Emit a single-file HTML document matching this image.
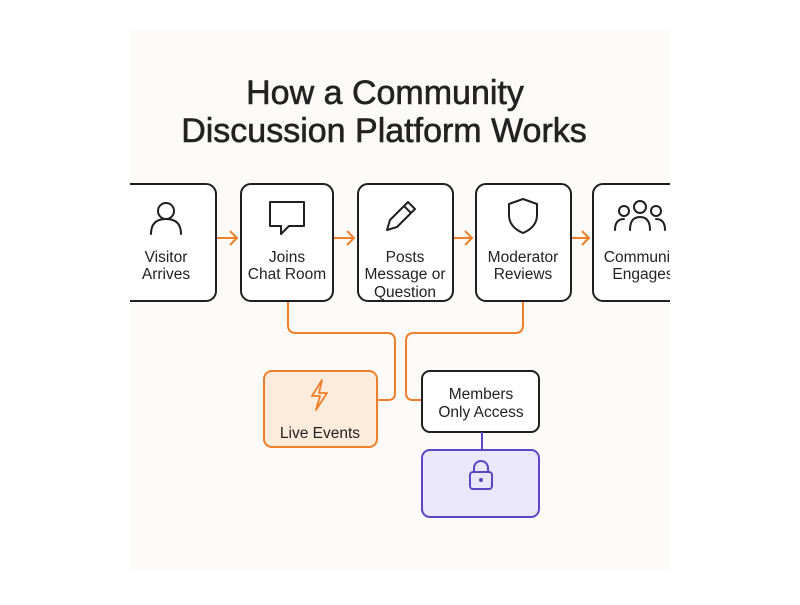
<!DOCTYPE html>
<html><head><style>
body{margin:0;background:#fff;width:800px;height:600px;overflow:hidden;font-family:"Liberation Sans",sans-serif}
</style></head><body>
<svg width="800" height="600" viewBox="0 0 800 600" xmlns="http://www.w3.org/2000/svg">
<rect x="130" y="30" width="540" height="540" fill="#fbfaf8"/>
<g font-family="Liberation Sans, sans-serif" fill="#222" text-anchor="middle" font-size="34" stroke="#222" stroke-width="0.6">
<text x="385" y="104">How a Community</text>
<text x="384" y="142">Discussion Platform Works</text>
</g>
<defs><clipPath id="c"><rect x="130" y="0" width="540" height="600"/></clipPath></defs>
<g clip-path="url(#c)">
<g fill="#fff" stroke="#1f1f1f" stroke-width="2">
<rect x="110" y="184" width="106" height="117" rx="10"/>
<rect x="241" y="184" width="92" height="117" rx="10"/>
<rect x="358" y="184" width="95" height="117" rx="10"/>
<rect x="476" y="184" width="95" height="117" rx="10"/>
<rect x="593" y="184" width="100" height="117" rx="10"/>
</g>
<g stroke="#f07f2a" stroke-width="2" fill="none">
<path d="M217 238H236M230 231l7 7-7 7"/>
<path d="M334 238H354M347 231l7 7-7 7"/>
<path d="M454 238H472M465 231l7 7-7 7"/>
<path d="M572 238H589M582 231l7 7-7 7"/>
<path d="M288 302V325q0 8 8 8H387q8 0 8 8V393q0 7-7 7H378"/>
<path d="M523 302V325q0 8-8 8H414q-8 0-8 8V393q0 7 7 7H422"/>
</g>
<g stroke="#1f1f1f" stroke-width="2" fill="none" stroke-linecap="round" stroke-linejoin="round">
<circle cx="166" cy="211" r="8"/><path d="M151 234q0-15 15-15t15 15"/>
<path d="M270 202h34v24h-15l-8 8v-8h-11z"/>
<path d="M387 230l3-10 18-18 7 7-18 18z M404 206l7 7"/>
<path d="M523 199l-14 5v11q0 12 14 18 14-6 14-18v-11z"/>
<circle cx="624" cy="211" r="5"/><circle cx="640" cy="207" r="6"/><circle cx="656" cy="211" r="5"/>
<path d="M615 230q0-11 9-11M665 230q0-11-9-11M630 230q0-13 10-13t10 13"/>
</g>
<g font-size="15.5" fill="#222" text-anchor="middle">
<text x="166" y="262">Visitor</text><text x="166" y="279">Arrives</text>
<text x="287" y="262">Joins</text><text x="287" y="279">Chat Room</text>
<text x="405" y="262">Posts</text><text x="405" y="279">Message or</text><text x="405" y="297">Question</text>
<text x="523" y="262">Moderator</text><text x="523" y="279">Reviews</text>
<text x="643" y="262">Community</text><text x="643" y="279">Engages</text>
</g>
</g>
<rect x="264" y="371" width="113" height="76" rx="8" fill="#fdebdc" stroke="#f07f2a" stroke-width="2"/>
<path d="M322 380l-10 16h8l-4 14 11-17h-8z" fill="none" stroke="#f07f2a" stroke-width="1.8" stroke-linejoin="round"/>
<text x="320" y="438" font-size="15.5" fill="#222" text-anchor="middle">Live Events</text>
<rect x="422" y="371" width="117" height="61" rx="8" fill="#fff" stroke="#1f1f1f" stroke-width="2"/>
<text x="481" y="399" font-size="15.5" fill="#222" text-anchor="middle">Members</text>
<text x="481" y="417" font-size="15.5" fill="#222" text-anchor="middle">Only Access</text>
<path d="M482 432V450" stroke="#5b46c4" stroke-width="2"/>
<rect x="422" y="450" width="117" height="67" rx="8" fill="#ebe7fb" stroke="#5b46c4" stroke-width="2"/>
<rect x="470" y="472" width="22" height="17" rx="3" fill="none" stroke="#5b46c4" stroke-width="2"/>
<path d="M474 472v-4a7 7 0 0 1 14 0v4" fill="none" stroke="#5b46c4" stroke-width="2"/>
<circle cx="481" cy="480" r="2" fill="#5b46c4"/>
</svg>
</body></html>
